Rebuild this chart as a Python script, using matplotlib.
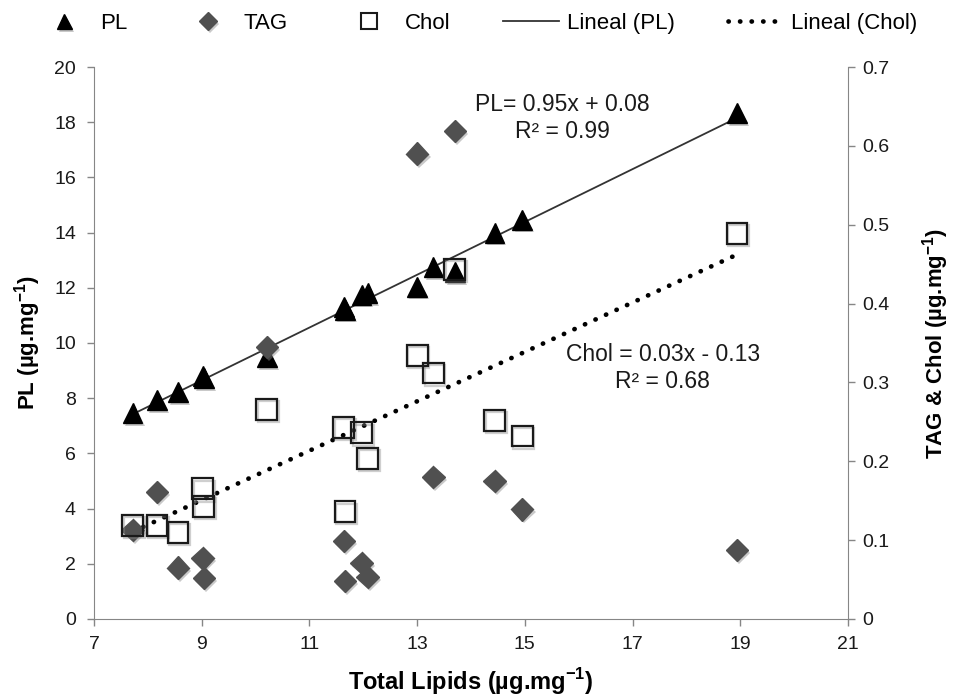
import numpy as np
import matplotlib
matplotlib.use("Agg")
import matplotlib.pyplot as plt
from matplotlib.lines import Line2D
import matplotlib.patheffects as pe

plt.rcParams['font.family'] = ['Liberation Sans', 'DejaVu Sans']
plt.rcParams['mathtext.fontset'] = 'custom'
plt.rcParams['mathtext.rm'] = 'Liberation Sans'
plt.rcParams['mathtext.bf'] = 'Liberation Sans:bold'

# Data (total lipids, ug/mg)
total_lipids = [7.72, 8.17, 8.56, 9.02, 9.04, 10.21, 11.64, 11.66, 11.97, 12.08,
                13.00, 13.30, 13.70, 14.44, 14.95, 18.94]
pl = [7.46, 7.93, 8.22, 8.80, 8.73, 9.49, 11.30, 11.20, 11.74, 11.81,
      12.03, 12.75, 12.57, 13.99, 14.46, 18.33]
tag = [0.113, 0.161, 0.065, 0.077, 0.052, 0.345, 0.099, 0.048, 0.071, 0.053,
       0.590, 0.180, 0.619, 0.175, 0.139, 0.0875]
chol = [0.119, 0.119, 0.110, 0.165, 0.143, 0.266, 0.243, 0.136, 0.236, 0.204,
        0.334, 0.312, 0.443, 0.252, 0.232, 0.489]
x_ticks = [7, 9, 11, 13, 15, 17, 19, 21]
pl_ticks = [0, 2, 4, 6, 8, 10, 12, 14, 16, 18, 20]
right_ticks = [0, 0.1, 0.2, 0.3, 0.4, 0.5, 0.6, 0.7]

x = np.array(total_lipids)
fig = plt.figure(figsize=(9.54, 6.98), dpi=100)
ax = fig.add_axes([0.0985, 0.1132, 0.7904, 0.7908])
ax2 = ax.twinx()

shadow = [pe.SimplePatchShadow(offset=(1.5, -2), shadow_rgbFace='#888888', alpha=0.45), pe.Normal()]
line_shadow = [pe.SimpleLineShadow(offset=(1.2, -1.6), shadow_color='#888888', alpha=0.4), pe.Normal()]

spine_col = '#868686'
for a in (ax, ax2):
    for s in a.spines.values():
        s.set_color(spine_col)
    a.spines['top'].set_visible(False)
ax.spines['right'].set_visible(False)
ax2.spines['left'].set_visible(False)
ax2.spines['bottom'].set_visible(False)

# Trend lines
xs = np.array([x.min(), x.max()])
p_pl = np.polyfit(x, pl, 1)
p_ch = np.polyfit(x, chol, 1)
ax.plot(xs, np.polyval(p_pl, xs), color='#333333', lw=1.3, zorder=2)
ax2.plot(xs, np.polyval(p_ch, xs), color='black', lw=3.4,
         linestyle=(0, (0.05, 2.4)), dash_capstyle='round', zorder=2)

# Markers
ax.plot(x, pl, linestyle='none', marker='^', ms=14, color='black', zorder=3,
        path_effects=shadow)
ax2.plot(x, tag, linestyle='none', marker='D', ms=11.5, color='#505050', mec='#505050',
         zorder=3, path_effects=shadow)
ax2.plot(x, chol, linestyle='none', marker='s', ms=15, mfc='none', mec='#1a1a1a',
         mew=1.6, zorder=4, path_effects=line_shadow)

ax.set_xlim(7, 21)
ax.set_ylim(0, 20)
ax2.set_ylim(0, 0.7)
ax.set_xticks(x_ticks)
ax.set_yticks(pl_ticks)
ax2.set_yticks(right_ticks)
ax2.set_yticklabels(['0'] + [f'{v:.1f}' for v in right_ticks[1:]])
ax.tick_params(axis='both', labelsize=14, color=spine_col, length=5, width=1,
               labelcolor='#1a1a1a')
ax.tick_params(axis='x', pad=7)
ax.tick_params(axis='y', pad=8)
ax2.tick_params(axis='y', labelsize=14, color=spine_col, length=5, width=1,
                labelcolor='#1a1a1a', pad=5)

ax.set_xlabel(r'Total Lipids (µg.mg$^{\mathbf{-1}}$)', fontsize=17, fontweight='bold', labelpad=10)
ax.set_ylabel(r'PL (µg.mg$^{\mathbf{-1}}$)', fontsize=16, fontweight='bold', labelpad=8)
ax2.set_ylabel(r'TAG & Chol (µg.mg$^{\mathbf{-1}}$)', fontsize=16, fontweight='bold', labelpad=22)

ax.text(15.69, 18.15, 'PL= 0.95x + 0.08\nR² = 0.99', ha='center', va='center',
        fontsize=16.5, color='#1a1a1a', linespacing=1.2)
ax.text(17.56, 9.1, 'Chol = 0.03x - 0.13\nR² = 0.68', ha='center', va='center',
        fontsize=16.5, color='#1a1a1a', linespacing=1.2)

handles = [
    Line2D([], [], linestyle='none', marker='^', ms=11, color='black', path_effects=shadow),
    Line2D([], [], linestyle='none', marker='D', ms=9, color='#505050', path_effects=shadow),
    Line2D([], [], linestyle='none', marker='s', ms=12, mfc='none', mec='#1a1a1a', mew=1.5),
    Line2D([], [], color='#333333', lw=1.3),
    Line2D([], [], color='black', lw=3.4, linestyle=(0, (0.05, 2.4)), dash_capstyle='round'),
]
labels = ['PL', 'TAG', 'Chol', 'Lineal (PL)', 'Lineal (Chol)']
fig.legend(handles, labels, loc='upper center', bbox_to_anchor=(0.5, 1.01), ncol=5,
           frameon=False, fontsize=16, handlelength=2.5, columnspacing=2.4,
           handletextpad=0.35)

fig.savefig('out.png', dpi=100)
